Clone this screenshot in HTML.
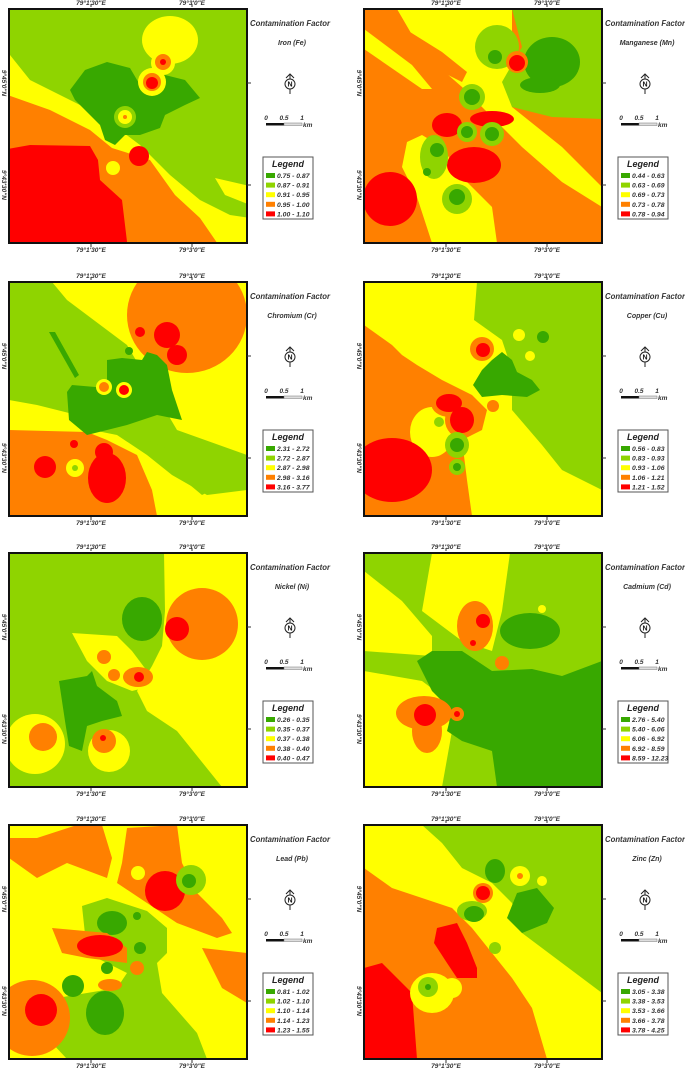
<!DOCTYPE html>
<html><head><meta charset="utf-8"><style>
html,body{margin:0;padding:0;background:#fff;}
svg{display:block;font-family:"Liberation Sans",sans-serif;}
</style></head><body>
<svg id="root" width="685" height="1070" viewBox="0 0 685 1070"></svg>
<script>
const metals = ["Iron (Fe)","Manganese (Mn)","Chromium (Cr)","Copper (Cu)","Nickel (Ni)","Cadmium (Cd)","Lead (Pb)","Zinc (Zn)"];
const legendFe = ["0.75 - 0.87","0.87 - 0.91","0.91 - 0.95","0.95 - 1.00","1.00 - 1.10"];
const legendMn = ["0.44 - 0.63","0.63 - 0.69","0.69 - 0.73","0.73 - 0.78","0.78 - 0.94"];
const legendCr = ["2.31 - 2.72","2.72 - 2.87","2.87 - 2.98","2.98 - 3.16","3.16 - 3.77"];
const legendCu = ["0.56 - 0.83","0.83 - 0.93","0.93 - 1.06","1.06 - 1.21","1.21 - 1.52"];
const legendNi = ["0.26 - 0.35","0.35 - 0.37","0.37 - 0.38","0.38 - 0.40","0.40 - 0.47"];
const legendCd = ["2.76 - 5.40","5.40 - 6.06","6.06 - 6.92","6.92 - 8.59","8.59 - 12.23"];
const legendPb = ["0.81 - 1.02","1.02 - 1.10","1.10 - 1.14","1.14 - 1.23","1.23 - 1.55"];
const legendZn = ["3.05 - 3.38","3.38 - 3.53","3.53 - 3.66","3.66 - 3.78","3.78 - 4.25"];
const legends = [legendFe,legendMn,legendCr,legendCu,legendNi,legendCd,legendPb,legendZn];
const xTicks = ["79°1'30\"E","79°3'0\"E"];
const yTicks = ["9°45'0\"N","9°43'30\"N"];
const D='#38a800',L='#8fd400',Y='#ffff00',O='#ff8000',R='#ff0000';
const classColors=[D,L,Y,O,R];

const shapes = [
// Fe
[['bg',L],
 ['p',Y,'2,45 30,80 60,95 100,115 140,145 170,175 200,200 230,215 250,218 250,250 2,250'],
 ['p',Y,'215,178 250,186 250,205 225,195'],
 ['p',O,'2,93 50,110 90,130 112,148 150,160 175,195 200,218 222,250 2,250'],
 ['p',R,'2,150 30,145 90,146 98,160 100,180 122,200 128,250 2,250'],
 ['c',Y,113,168,7],['c',R,139,156,10],
 ['p',D,'70,90 85,70 107,62 130,68 140,85 165,75 185,80 200,98 185,105 165,115 160,128 140,135 125,135 115,145 105,140 100,125 85,110 75,100'],
 ['e',Y,170,40,28,24],['c',Y,163,63,12],['c',Y,152,82,14],
 ['c',O,163,62,8],['c',O,152,82,9],['c',R,163,62,3],['c',R,152,83,6],
 ['c',L,125,117,11],['c',Y,125,117,7],['c',O,125,117,2]],
// Mn
[['bg',O],
 ['p',Y,'35,2 150,2 150,100 200,140 240,180 240,200 200,175 160,140 130,110 100,80 60,45'],
 ['p',O,'10,12 40,20 80,45 105,65 100,75 70,60 30,40'],
 ['p',Y,'2,22 50,58 70,82 60,82 2,42'],
 ['p',L,'150,2 240,2 240,112 190,110 150,100 140,75 160,40'],
 ['e',D,190,55,28,25],['e',D,178,78,20,8],
 ['c',L,135,40,22],['c',D,133,50,7],['c',O,155,55,11],['c',R,155,56,8],
 ['p',Y,'45,135 60,128 80,140 100,170 130,200 135,236 70,236 55,190 40,160'],
 ['c',R,28,192,27],
 ['e',R,85,118,15,12],['e',R,130,112,22,8],['e',R,112,158,27,18],
 ['c',L,110,90,13],['c',D,110,90,8],['c',L,105,125,10],['c',D,105,125,6],
 ['c',L,130,127,12],['c',D,130,127,7],
 ['e',L,72,150,14,22],['c',D,75,143,7],['c',D,65,165,4],
 ['c',L,95,192,15],['c',D,95,190,8]],
// Cr
[['bg',L],
 ['p',Y,'45,2 240,2 240,175 170,150 120,65 60,20'],
 ['e',O,180,35,60,58],
 ['c',R,133,52,5],['c',R,160,55,13],['c',R,170,75,10],
 ['p',Y,'2,120 30,125 70,135 85,150 110,155 140,175 165,195 200,215 240,210 240,236 2,236'],
 ['p',L,'140,160 175,175 205,210 195,215 165,190'],
 ['p',O,'2,150 80,152 100,160 130,175 145,210 150,236 2,236'],
 ['c',R,38,187,11],['c',R,67,164,4],['e',R,100,198,19,25],['c',R,97,172,9],
 ['c',Y,68,188,9],['c',L,68,188,3],
 ['p',D,'60,112 65,105 100,108 100,80 115,78 135,80 140,72 150,75 160,85 165,110 175,140 150,135 120,145 100,150 80,155 62,140'],
 ['p',D,'42,52 48,52 72,95 68,98'],
 ['c',D,122,71,4],
 ['c',Y,97,107,8],['c',O,97,107,5],['c',Y,117,110,8],['c',R,117,110,5]],
// Cu
[['bg',L],
 ['p',Y,'2,2 115,2 112,40 140,60 150,90 150,130 180,165 200,190 240,210 240,236 2,236'],
 ['p',O,'2,45 30,65 40,75 55,85 80,100 110,115 125,130 120,150 100,160 105,200 110,236 2,236'],
 ['e',Y,70,152,22,25],
 ['e',R,30,190,40,32],
 ['e',O,87,123,18,14],['e',O,100,140,17,18],
 ['e',R,87,123,13,9],['e',R,100,140,12,13],
 ['c',O,120,69,12],['c',R,121,70,7],
 ['p',D,'111,105 120,90 130,80 140,72 150,80 155,92 170,100 178,110 165,117 140,115 120,117'],
 ['c',Y,157,55,6],['c',Y,168,76,5],['c',D,181,57,6],
 ['e',L,95,165,12,13],['c',D,95,165,7],['c',L,95,187,8],['c',D,95,187,4],
 ['c',L,77,142,5],['c',O,131,126,6]],
// Ni
[['bg',L],
 ['p',Y,'157,2 240,2 240,236 215,236 170,180 140,160 130,140 145,115 155,95 158,60'],
 ['c',O,195,73,36],['c',R,170,78,12],
 ['e',D,135,68,20,22],
 ['p',Y,'65,82 110,85 125,100 140,120 145,135 125,140 100,130 80,110'],
 ['c',O,97,106,7],['c',O,107,124,6],['e',O,131,126,15,10],['c',R,132,126,5],
 ['p',D,'52,130 80,125 85,120 90,135 110,150 115,165 95,170 80,175 75,200 62,195 58,170'],
 ['c',Y,28,193,30],['c',O,36,186,14],
 ['c',Y,102,200,21],['c',O,97,190,12],['c',R,96,187,3]],
// Cd
[['bg',L],
 ['p',Y,'70,2 148,2 140,60 130,100 100,90 60,60'],
 ['p',Y,'2,20 40,50 70,85 70,105 2,100'],
 ['p',Y,'2,120 60,130 80,145 90,180 80,236 2,236'],
 ['p',D,'55,110 70,100 100,100 130,120 170,118 200,125 240,110 240,236 135,236 130,200 100,190 85,180 90,160 70,140'],
 ['e',D,168,80,30,18],
 ['e',O,113,75,18,25],['c',O,140,112,7],['c',R,121,70,7],['c',R,111,92,3],
 ['c',Y,180,58,4],
 ['e',O,62,162,28,17],['e',O,65,180,15,22],['c',R,63,164,11],['c',O,95,163,7],['c',R,95,163,3]],
// Pb
[['bg',Y],
 ['p',O,'2,15 30,15 70,2 95,2 105,35 100,55 60,40 30,55 2,35'],
 ['p',O,'120,5 170,2 175,40 190,70 215,95 225,110 210,115 170,100 140,80 110,60 115,40'],
 ['c',R,158,68,20],['c',Y,131,50,7],['c',L,184,57,15],['c',D,182,58,7],
 ['p',L,'75,83 100,75 140,88 160,105 160,130 150,140 155,170 190,210 200,236 60,236 45,220 48,190 50,175 80,170 110,165 120,150 100,140 80,130'],
 ['e',D,105,100,15,12],['c',D,130,93,4],['c',D,133,125,6],['c',D,100,145,6],['c',D,66,163,11],['e',D,98,190,19,22],
 ['p',O,'45,105 100,110 120,125 120,140 80,135 55,130'],
 ['e',R,93,123,23,11],
 ['c',O,25,195,38],['c',R,34,187,16],
 ['p',O,'195,125 240,130 240,180 215,165'],
 ['c',O,130,145,7],['e',O,103,162,12,6]],
// Zn
[['bg',L],
 ['p',Y,'2,2 60,2 80,20 100,45 130,60 150,80 160,110 200,140 240,170 240,236 2,236'],
 ['p',O,'2,45 30,65 60,75 90,85 110,105 130,130 150,155 170,185 185,236 2,236'],
 ['p',R,'2,145 20,140 50,170 55,236 2,236'],
 ['p',R,'75,105 95,100 105,120 115,145 115,155 95,155 85,140 72,120'],
 ['e',Y,70,170,22,20],['c',Y,90,165,10],['c',L,66,164,10],['c',D,66,164,3],
 ['e',D,133,48,10,12],['c',Y,158,53,10],['c',O,158,53,3],['c',Y,180,58,5],
 ['c',Y,121,70,13],['c',O,121,70,10],['c',R,121,70,7],
 ['e',L,110,88,15,10],['e',D,112,91,10,8],
 ['p',D,'145,95 155,70 175,65 192,85 185,100 160,110'],
 ['c',L,133,125,6]]
];
const shapeShift=[[-7,-7],[0,0],[0,0],[0,0],[0,0],[0,0],[0,0],[0,0]];

const colX=[9,364], rowY=[9,282,553,825], MW=238, MH=234;
const NS='http://www.w3.org/2000/svg';
const root=document.getElementById('root');
function mk(tag,attrs,parent){const e=document.createElementNS(NS,tag);for(const k in attrs)e.setAttribute(k,attrs[k]);parent.appendChild(e);return e;}
function txt(x,y,s,size,parent,extra){const t=mk('text',Object.assign({x:x,y:y,'font-size':size,'font-weight':'bold','font-style':'italic',fill:'#333'},extra||{}),parent);t.textContent=s;return t;}

metals.forEach((m,i)=>{
  const mx=colX[i%2], my=rowY[Math.floor(i/2)], mr=mx+MW;
  const g=mk('g',{},root);
  
  
  const s=mk('svg',{x:mx-2,y:my-2,width:242,height:240,viewBox:'0 0 242 240'},g);
  
  
  const cp=mk('clipPath',{id:'c'+i},s); mk('rect',{x:2,y:2,width:238,height:234},cp);
  const cg=mk('g',{'clip-path':'url(#c'+i+')'},s);
  mk('rect',{x:0,y:0,width:242,height:240,fill:shapes[i][0][1]},cg);
  const sg=mk('g',{transform:'translate('+shapeShift[i][0]+','+shapeShift[i][1]+')'},cg);
  shapes[i].forEach(sh=>{
    let el;
    if(sh[0]==='bg') el=mk('rect',{x:0,y:0,width:260,height:260,fill:sh[1]},sg);
    else if(sh[0]==='p') el=mk('polygon',{points:sh[2],fill:sh[1]},sg);
    else if(sh[0]==='c') el=mk('circle',{cx:sh[2],cy:sh[3],r:sh[4],fill:sh[1]},sg);
    else el=mk('ellipse',{cx:sh[2],cy:sh[3],rx:sh[4],ry:sh[5],fill:sh[1]},sg);
    
    
  });
  const b=mk('rect',{x:2,y:2,width:238,height:234,fill:'none',stroke:'#111','stroke-width':2},s);
  
  
  const tx=[mx+82,mx+183], ty=[my+74,my+176];
  tx.forEach((x,k)=>{
    mk('line',{x1:x,y1:my-2,x2:x,y2:my-5,stroke:'#333'},g);
    mk('line',{x1:x,y1:my+MH+1,x2:x,y2:my+MH+4,stroke:'#333'},g);
    const t1=txt(x,my-4,xTicks[k],6.5,g,{'text-anchor':'middle'});
    
    
    const t2=txt(x,my+MH+9,xTicks[k],6.5,g,{'text-anchor':'middle'});
    
    
  });
  ty.forEach((y,k)=>{
    mk('line',{x1:mr,y1:y,x2:mr+4,y2:y,stroke:'#333'},g);
    const t=txt(mx-7,y,yTicks[k],6.5,g,{'text-anchor':'middle',transform:'rotate(90 '+(mx-7)+' '+y+')'});
    
    
  });
  const tt=txt(mr+3,my+17,'Contamination Factor',8,g,{textLength:80,lengthAdjust:'spacingAndGlyphs'});
  
  
  const mt=txt(mr+45,my+36,m,7,g,{'text-anchor':'middle'});
  
  
  const na=mk('g',{},g);
  
  
  const nx=mr+43, ny=my+75;
  mk('line',{x1:nx,y1:ny-10,x2:nx,y2:ny+10,stroke:'#222','stroke-width':1},na);
  mk('polyline',{points:(nx-4)+','+(ny-6)+' '+nx+','+(ny-10)+' '+(nx+4)+','+(ny-6),fill:'none',stroke:'#222','stroke-width':1},na);
  mk('circle',{cx:nx,cy:ny,r:5,fill:'#fff',stroke:'#222','stroke-width':1},na);
  txt(nx,ny+2.5,'N',7,na,{'text-anchor':'middle',fill:'#111','font-style':'normal'});
  const sb=mk('g',{},g);
  
  
  const sx=mr+19, sy=my+114;
  mk('rect',{x:sx,y:sy,width:18,height:2.5,fill:'#111'},sb);
  mk('rect',{x:sx+18,y:sy,width:18,height:2.5,fill:'#ddd',stroke:'#777','stroke-width':0.5},sb);
  txt(sx,sy-3,'0',6.5,sb,{'text-anchor':'middle'});
  txt(sx+18,sy-3,'0.5',6.5,sb,{'text-anchor':'middle'});
  txt(sx+36,sy-3,'1',6.5,sb,{'text-anchor':'middle'});
  txt(sx+37,sy+4,'km',6.5,sb);
  const lg=mk('g',{},g);
  
  
  const lx=mr+16, ly=my+148;
  mk('rect',{x:lx,y:ly,width:50,height:62,fill:'#fff',stroke:'#555','stroke-width':1},lg);
  txt(lx+25,ly+10,'Legend',9,lg,{'text-anchor':'middle',fill:'#222'});
  legends[i].forEach((lab,k)=>{
    const ey=ly+20+k*9.6;
    const sw=mk('rect',{x:lx+3,y:ey-4,width:9,height:5,fill:classColors[k]},lg);
    
    
    const lt=txt(lx+14,ey+1,lab,6.8,lg);
    
    
  });
});
</script>
</body></html>
